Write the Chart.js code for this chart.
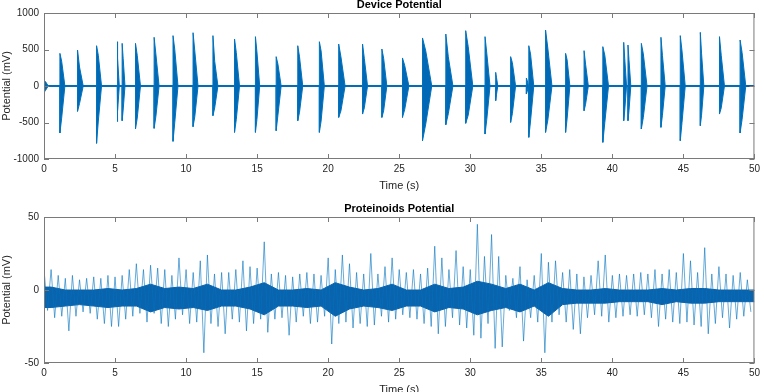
<!DOCTYPE html>
<html>
<head>
<meta charset="utf-8">
<script src="https://cdn.jsdelivr.net/npm/chart.js@4.4.1/dist/chart.umd.min.js"></script>
<style>
html, body { margin: 0; padding: 0; background: #fff; overflow: hidden; width: 764px; height: 392px; }
.panel { position: absolute; left: 0; width: 764px; }
</style>
</head>
<body>
<div class="panel" style="top:0;height:196px"><canvas id="deviceChart" width="764" height="196"></canvas></div>
<div class="panel" style="top:196px;height:210px"><canvas id="proteinoidChart" width="764" height="210"></canvas></div>
<script>
// axis ticks
const timeTicks = [0, 5, 10, 15, 20, 25, 30, 35, 40, 45, 50];
const deviceTicks = [-1000, -500, 0, 500, 1000];
const proteinoidTicks = [-50, 0, 50];

// Device potential: one entry per burst (onset time s, peak / trough mV, dense body mV, decay length s)
const burstStart = [0.0, 1.12, 2.36, 3.70, 5.15, 5.50, 6.44, 7.75, 9.08, 10.49, 11.89, 13.41, 14.88, 16.34, 17.86, 19.38, 20.74, 22.42, 23.78, 25.23,
    26.64, 28.28, 29.68, 31.04, 31.79, 32.84, 33.95, 34.12, 35.30, 36.71, 38.01, 39.33, 40.80, 41.10, 42.04, 43.42, 44.78, 46.19, 47.54, 48.99];
const burstHigh = [80, 447, 493, 552, 607, 584, 584, 667, 690, 730, 690, 644, 676, 402, 552, 607, 575, 575, 507, 384,
    658, 712, 758, 676, 187, 402, 110, 552, 767, 447, 484, 539, 598, 562, 584, 667, 690, 735, 676, 630];
const burstLow = [-90, -644, -347, -785, -488, -475, -589, -580, -758, -557, -406, -635, -635, -612, -475, -635, -430, -384, -430, -430,
    -749, -530, -511, -658, -200, -498, -110, -703, -635, -635, -338, -772, -475, -475, -589, -566, -749, -543, -384, -644];
const burstBodyHigh = [60, 340, 260, 420, 380, 380, 420, 440, 500, 480, 340, 460, 470, 300, 400, 480, 400, 380, 380, 280,
    480, 400, 540, 450, 120, 320, 80, 440, 520, 360, 300, 420, 380, 360, 440, 420, 480, 450, 420, 460];
const burstBodyLow = [-60, -440, -240, -480, -340, -330, -440, -420, -500, -420, -300, -460, -460, -400, -360, -480, -340, -300, -340, -320,
    -520, -380, -400, -460, -120, -380, -80, -480, -470, -450, -250, -500, -340, -340, -430, -400, -500, -400, -300, -460];
const burstLength = [0.3, 0.35, 0.4, 0.35, 0.15, 0.2, 0.35, 0.35, 0.35, 0.35, 0.35, 0.35, 0.3, 0.35, 0.35, 0.35, 0.45, 0.35, 0.35, 0.45,
    0.65, 0.5, 0.5, 0.35, 0.15, 0.35, 0.15, 0.35, 0.45, 0.3, 0.3, 0.4, 0.2, 0.2, 0.4, 0.3, 0.35, 0.25, 0.35, 0.4];

// Proteinoids potential: spike extremes per 0.5 s, dense core per 1 s (mV)
const spikeHigh = [14, 14, 10, 8, 10, 7, 8, 9, 8, 10, 9, 10, 14, 18, 14, 17, 15, 14, 10, 22, 14, 12, 20, 24, 11, 12, 12, 14, 20, 16,
    15, 33, 11, 12, 10, 9, 11, 12, 11, 10, 22, 14, 24, 18, 12, 11, 25, 11, 16, 22, 14, 12, 14, 11, 15, 30, 22, 14, 27, 16, 14, 45, 23, 38,
    23, 10, 8, 16, 7, 10, 25, 19, 20, 12, 14, 11, 9, 10, 20, 24, 10, 11, 10, 11, 12, 11, 14, 11, 14, 12, 25, 20, 12, 29, 11, 16, 11, 10, 12, 7];
const spikeLow = [-14, -19, -18, -28, -18, -15, -16, -20, -23, -25, -25, -20, -18, -16, -22, -16, -23, -25, -20, -17, -23, -22, -43, -23, -25, -30, -20, -22, -28, -23,
    -20, -29, -20, -19, -31, -22, -18, -23, -22, -18, -37, -23, -22, -26, -23, -25, -24, -18, -22, -20, -17, -19, -20, -23, -25, -30, -25, -19, -24, -26, -31, -33, -23, -40,
    -39, -14, -19, -35, -19, -22, -43, -22, -17, -22, -27, -30, -19, -17, -18, -22, -19, -18, -17, -18, -17, -19, -25, -20, -22, -23, -22, -24, -25, -30, -23, -19, -26, -20, -18, -15];
const coreHigh = [2, 0, 0, 0, 1, 0, 1, 4, 1, 2, 1, 4, 0, 0, 2, 5, 0, 0, 1, 0, 5, 2, 0, 1, 4, 0, 0, 4, 1, 2, 6, 4, 1, 4, 0, 5, 1, 0, 0, 1, 0, 0, 0, 1, 0, 1, 1, 0, 0, 0];
const coreLow = [-12, -11, -10, -11, -12, -11, -11, -15, -12, -13, -12, -14, -11, -11, -13, -17, -11, -11, -12, -11, -18, -13, -11, -12, -14, -11, -11, -15, -12, -13,
    -17, -14, -12, -15, -11, -18, -10, -9, -9, -9, -8, -8, -8, -10, -8, -9, -9, -8, -8, -8];

const lineBlue = '#0072BD';
const textColor = '#262626';
const fontFamily = '"Liberation Sans", Arial, Helvetica, sans-serif';

/// draws the closed axes box, inward ticks on all four sides and the bold title
const matlabFrame = {
    id: 'matlabFrame',
    afterDraw(chart, args, opts) {
        const { ctx, chartArea: a, scales } = chart;
        ctx.save();
        ctx.strokeStyle = '#7a7a7a';
        ctx.lineWidth = 1;
        ctx.strokeRect(a.left + 0.5, a.top + 0.5, a.right - a.left - 1, a.bottom - a.top - 1);
        ctx.beginPath();
        scales.x.ticks.forEach(t => {
            const x = Math.round(scales.x.getPixelForValue(t.value)) + 0.5;
            ctx.moveTo(x, a.bottom); ctx.lineTo(x, a.bottom - 5);
            ctx.moveTo(x, a.top); ctx.lineTo(x, a.top + 5);
        });
        scales.y.ticks.forEach(t => {
            const y = Math.round(scales.y.getPixelForValue(t.value)) + 0.5;
            ctx.moveTo(a.left, y); ctx.lineTo(a.left + 5, y);
            ctx.moveTo(a.right, y); ctx.lineTo(a.right - 5, y);
        });
        ctx.stroke();
        ctx.fillStyle = '#000';
        ctx.font = 'bold 11px ' + fontFamily;
        ctx.textAlign = 'center';
        ctx.textBaseline = 'middle';
        ctx.fillText(opts.text, (a.left + a.right) / 2, opts.y);
        ctx.restore();
    }
};

function axisOptions(yTicks, xHeight, titleGap) {
    const tickFont = { family: fontFamily, size: 10 };
    return {
        x: {
            type: 'linear', min: 0, max: 50,
            afterBuildTicks: s => { s.ticks = timeTicks.map(v => ({ value: v })); },
            ticks: { color: textColor, font: tickFont, padding: 4, maxRotation: 0, autoSkip: false, callback: v => String(v) },
            grid: { display: false, drawTicks: false },
            border: { display: false },
            title: { display: true, text: 'Time (s)', color: textColor, font: { family: fontFamily, size: 11 }, padding: { top: 0, bottom: titleGap } },
            afterFit: s => { s.height = xHeight; }
        },
        y: {
            min: yTicks[0], max: yTicks[yTicks.length - 1],
            afterBuildTicks: s => { s.ticks = yTicks.map(v => ({ value: v })); },
            ticks: { color: textColor, font: tickFont, padding: 5, callback: v => String(v) },
            grid: { display: false, drawTicks: false },
            border: { display: false },
            title: { display: true, text: 'Potential (mV)', color: textColor, font: { family: fontFamily, size: 11 }, padding: 0 },
            afterFit: s => { s.width = 44; }
        }
    };
}

// ---- Device potential ----
const upperEnvelope = [];
const lowerEnvelope = [];
burstStart.forEach(function (t, i) {
    const len = burstLength[i];
    upperEnvelope.push({ x: t, y: 0 }, { x: t, y: burstHigh[i] }, { x: t + len * 0.35, y: burstBodyHigh[i] }, { x: t + len, y: 0 });
    lowerEnvelope.push({ x: t, y: 0 }, { x: t, y: burstLow[i] }, { x: t + len * 0.35, y: burstBodyLow[i] }, { x: t + len, y: 0 });
});

new Chart(document.getElementById('deviceChart'), {
    type: 'line',
    data: {
        datasets: [
            { data: upperEnvelope, borderColor: lineBlue, backgroundColor: '#0068b5', borderWidth: 1, fill: 'origin' },
            { data: lowerEnvelope, borderColor: lineBlue, backgroundColor: '#0068b5', borderWidth: 1, fill: 'origin' },
            { data: [{ x: 0, y: 0 }, { x: 50, y: 0 }], borderColor: '#0a5ea6', borderWidth: 2, fill: false }
        ]
    },
    options: {
        responsive: false,
        animation: false,
        layout: { padding: { left: 0, right: 8, top: 13, bottom: 0 } },
        elements: { point: { radius: 0 }, line: { tension: 0 } },
        plugins: { legend: { display: false }, tooltip: { enabled: false }, matlabFrame: { text: 'Device Potential', y: 5 } },
        scales: axisOptions(deviceTicks, 37, 3)
    },
    plugins: [matlabFrame]
});

// ---- Proteinoids potential ----
const spikeTrace = [];
spikeHigh.forEach(function (v, i) {
    spikeTrace.push({ x: i * 0.5, y: v }, { x: i * 0.5 + 0.25, y: spikeLow[i] });
});
const coreTop = [{ x: 0, y: coreHigh[0] }].concat(coreHigh.map((v, i) => ({ x: i + 0.5, y: v })), [{ x: 50, y: coreHigh[coreHigh.length - 1] }]);
const coreBottom = [{ x: 0, y: coreLow[0] }].concat(coreLow.map((v, i) => ({ x: i + 0.5, y: v })), [{ x: 50, y: coreLow[coreLow.length - 1] }]);

new Chart(document.getElementById('proteinoidChart'), {
    type: 'line',
    data: {
        datasets: [
            { data: spikeTrace, borderColor: 'rgba(0, 114, 189, 0.75)', borderWidth: 0.8, fill: false },
            { data: coreTop, borderColor: '#0a63ad', backgroundColor: '#0a63ad', borderWidth: 1, fill: '+1' },
            { data: coreBottom, borderColor: '#0a63ad', borderWidth: 1, fill: false }
        ]
    },
    options: {
        responsive: false,
        animation: false,
        layout: { padding: { left: 0, right: 8, top: 21, bottom: 0 } },
        elements: { point: { radius: 0 }, line: { tension: 0 } },
        plugins: { legend: { display: false }, tooltip: { enabled: false }, matlabFrame: { text: 'Proteinoids Potential', y: 13 } },
        scales: axisOptions(proteinoidTicks, 43, 9)
    },
    plugins: [matlabFrame]
});
</script>
</body>
</html>
